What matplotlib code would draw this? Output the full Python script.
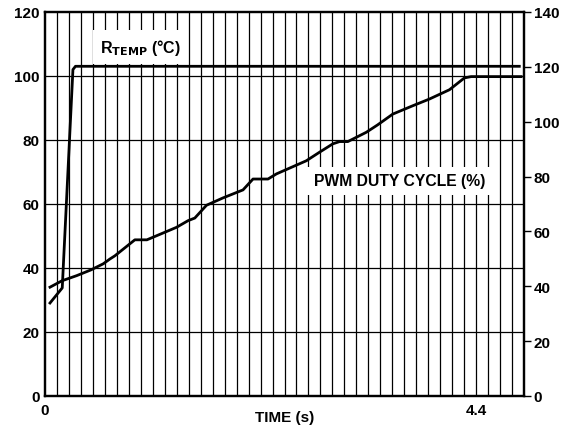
import numpy as np
import matplotlib
matplotlib.use("Agg")
import matplotlib.pyplot as plt

plt.rcParams['font.family'] = ['Liberation Sans', 'DejaVu Sans']
plt.rcParams['font.weight'] = 'bold'

# PWM duty cycle (%), left axis
pwm_t = [0.051, 0.173, 0.323, 0.469, 0.594, 0.662, 0.713, 0.917, 1.04, 1.342,
         1.461, 1.529, 1.648, 1.817, 2.021, 2.123, 2.276, 2.362, 2.667, 2.803,
         2.938, 3.007, 3.091, 3.279, 3.394, 3.55, 3.754, 3.924, 4.128, 4.281,
         4.349, 4.859]
pwm_val = [34.0, 36.0, 37.6, 39.4, 41.3, 42.8, 43.8, 48.8, 48.8, 52.7,
           54.8, 55.6, 59.6, 61.9, 64.4, 67.8, 67.8, 69.4, 73.5, 76.2,
           78.8, 79.5, 79.5, 82.4, 84.7, 88.1, 90.7, 92.8, 95.7, 99.4,
           99.8, 99.8]

# RTEMP (degC), right axis
temp_t = [0.051, 0.176, 0.285, 0.311, 4.841]
temp_val = [33.9, 39.4, 119.0, 120.2, 120.2]

left_ticks = [0, 20, 40, 60, 80, 100, 120]
right_ticks = [0, 20, 40, 60, 80, 100, 120, 140]
x_ticks = [0, 4.4]
x_labels = ["0", "4.4"]

step = 4.4 / 36
xmax = step * 40

fig = plt.figure(figsize=(5.69, 4.27), dpi=100)
ax = fig.add_axes([0.0791, 0.0703, 0.8418, 0.8993])
ax2 = ax.twinx()

# grid
for i in range(1, 40):
    ax.axvline(i * step, color='black', lw=0.9, zorder=1)
for v in left_ticks[1:-1]:
    ax.axhline(v, color='black', lw=0.9, zorder=1)

ax.plot(pwm_t, pwm_val, color='black', lw=2.0, zorder=3)
ax2.plot(temp_t, temp_val, color='black', lw=2.0, zorder=3)

ax.set_xlim(0, xmax)
ax.set_ylim(0, 120)
ax2.set_ylim(0, 140)

ax.set_yticks(left_ticks)
ax.tick_params(axis='y', length=0, pad=4, labelsize=11)
ax2.set_yticks(right_ticks)
ax2.tick_params(axis='y', length=5, width=1, direction='out', pad=2, labelsize=11)
ax.set_xticks(x_ticks)
ax.set_xticklabels(x_labels)
ax.tick_params(axis='x', length=0, pad=5, labelsize=11)

for a in (ax, ax2):
    for s in a.spines.values():
        s.set_linewidth(1.6)

ax.set_xlabel("TIME (s)", fontsize=11, fontweight='bold', labelpad=-4.8)

ax2.text(0.2, 0.909, r"R$_{\mathbf{TEMP}}$ (°C)", transform=ax.transAxes,
         ha='center', va='center', fontsize=11.5, fontweight='bold', zorder=5,
         bbox=dict(facecolor='white', edgecolor='none', pad=5))
ax2.text(0.741, 0.56, "PWM DUTY CYCLE (%)", transform=ax.transAxes,
         ha='center', va='center', fontsize=11.3, fontweight='bold', zorder=5,
         bbox=dict(facecolor='white', edgecolor='none', pad=5))

fig.savefig("out.png", dpi=100)
